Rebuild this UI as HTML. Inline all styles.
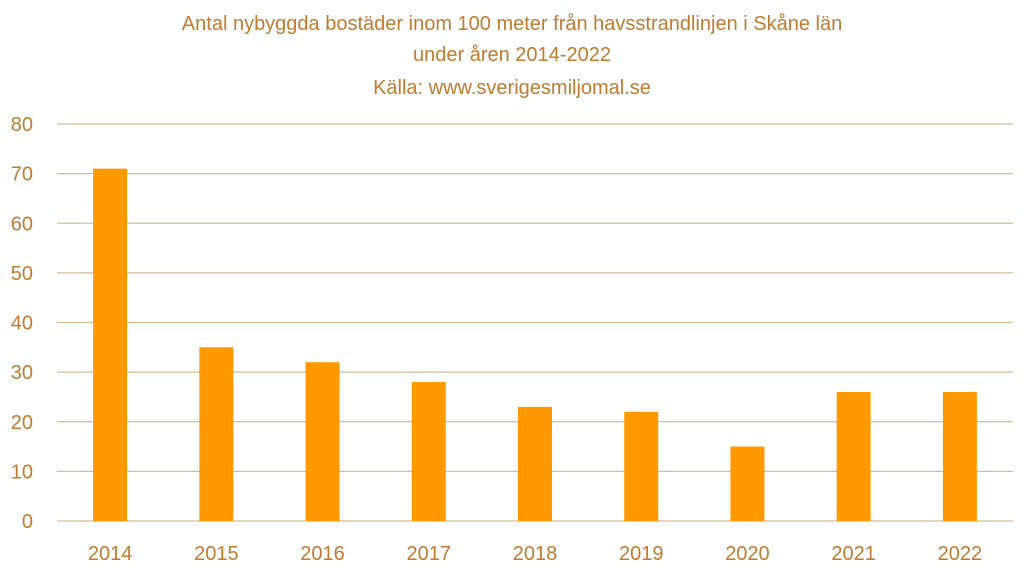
<!DOCTYPE html>
<html><head><meta charset="utf-8"><style>
body{margin:0;background:#fff;}
svg{display:block;font-family:"Liberation Sans",Calibri,sans-serif;}
</style></head><body>
<svg id="chart" width="1024" height="576">
<g fill="#C27A2E" font-size="20" text-anchor="middle">
<text x="512" y="30">Antal nybyggda bostäder inom 100 meter från havsstrandlinjen i Skåne län</text>
<text x="512" y="61">under åren 2014-2022</text>
<text x="512" y="94">Källa: www.sverigesmiljomal.se</text>
</g>
<g id="grid"></g><g id="bars"></g><g id="ylab"></g><g id="xlab"></g>
</svg>
<script>
const categories=["2014","2015","2016","2017","2018","2019","2020","2021","2022"];
const values=[71,35,32,28,23,22,15,26,26];
const yTicks=[0,10,20,30,40,50,60,70,80];
const NS="http://www.w3.org/2000/svg";
const x0=57,x1=1013,y0=521,y1=124,yMax=80;
const y=v=>y0-(v/yMax)*(y0-y1);
const band=(x1-x0)/categories.length;
const xc=i=>x0+band*(i+0.5);
function mk(t,a,p){const e=document.createElementNS(NS,t);for(const k in a)e.setAttribute(k,a[k]);p.appendChild(e);return e;}
const grid=document.getElementById('grid'),bars=document.getElementById('bars'),yl=document.getElementById('ylab'),xl=document.getElementById('xlab');
yTicks.forEach(t=>{
 const l=mk('line',{x1:x0,x2:x1,y1:y(t),y2:y(t),stroke:'#D8BC92','stroke-width':1.2},grid);
 
 
 const tx=mk('text',{x:33,y:y(t)+7,'text-anchor':'end','font-size':20,fill:'#C27A2E'},yl);
 tx.textContent=t;
 
 
});
categories.forEach((c,i)=>{
 const r=mk('rect',{x:xc(i)-17,width:34,y:y(values[i]),height:y0-y(values[i]),fill:'#FF9900'},bars);
 
 
 const tx=mk('text',{x:xc(i),y:560,'text-anchor':'middle','font-size':20,fill:'#C27A2E'},xl);
 tx.textContent=c;
 
 
});
</script>
</body></html>
